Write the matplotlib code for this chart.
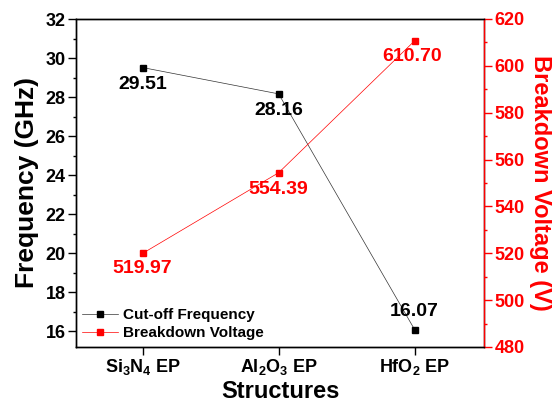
import matplotlib
matplotlib.use("Agg")
import matplotlib.pyplot as plt
from matplotlib.ticker import MultipleLocator

plt.rcParams['font.family'] = ['Liberation Sans', 'DejaVu Sans']
plt.rcParams['font.weight'] = 'bold'
plt.rcParams['mathtext.fontset'] = 'custom'
plt.rcParams['mathtext.rm'] = 'Liberation Sans:bold'
plt.rcParams['mathtext.bf'] = 'Liberation Sans:bold'
plt.rcParams['mathtext.it'] = 'Liberation Sans:bold'
plt.rcParams['mathtext.default'] = 'bf'

# data
structures = ['Si$_3$N$_4$ EP', 'Al$_2$O$_3$ EP', 'HfO$_2$ EP']
cutoff_freq = [29.51, 28.16, 16.07]          # GHz
breakdown_v = [519.97, 554.39, 610.70]       # V
freq_labels = ['29.51', '28.16', '16.07']
volt_labels = ['519.97', '554.39', '610.70']

red = '#ff0000'
x = list(range(len(structures)))

fig = plt.figure(figsize=(5.52, 4.08), dpi=100)
ax = fig.add_axes([76 / 552, 1 - 347 / 408, 408 / 552, 328 / 408])
ax2 = ax.twinx()

l1, = ax.plot(x, cutoff_freq, color='#333333', lw=0.5, marker='s', ms=5,
              mfc='black', mec='black', label='Cut-off Frequency')
l2, = ax2.plot(x, breakdown_v, color=red, lw=0.5, marker='s', ms=5,
               label='Breakdown Voltage')

ax.set_xlim(-0.49, 2.51)
ax.set_ylim(15.18, 32)
ax2.set_ylim(480, 620)

ax.set_xticks(x)
ax.set_xticklabels(structures, fontsize=13, fontweight='bold')
ax.yaxis.set_major_locator(MultipleLocator(2))
ax.yaxis.set_minor_locator(MultipleLocator(1))
ax2.yaxis.set_major_locator(MultipleLocator(20))
ax2.yaxis.set_minor_locator(MultipleLocator(10))

ax.tick_params(axis='both', which='major', direction='out', length=5.5, width=1,
               labelsize=13, pad=2)
ax.tick_params(axis='y', which='minor', direction='out', length=2.5, width=1)
ax.tick_params(axis='x', which='minor', bottom=False)
ax2.tick_params(axis='y', which='major', direction='out', length=5.5, width=1,
                labelsize=13, pad=2, colors=red)
ax2.tick_params(axis='y', which='minor', direction='out', length=2.5, width=1,
                colors=red)
for lab in ax.get_yticklabels() + ax2.get_yticklabels():
    lab.set_fontweight('bold')

for s in ax.spines.values():
    s.set_linewidth(1)
for s in ax2.spines.values():
    s.set_linewidth(1)
ax2.spines['right'].set_color(red)

ax.set_xlabel('Structures', fontsize=17, fontweight='bold', labelpad=2)
ax.set_ylabel('Frequency (GHz)', fontsize=19, fontweight='bold', labelpad=5)
ax2.set_ylabel('Breakdown Voltage (V)', fontsize=17, fontweight='bold',
               color=red, labelpad=3, rotation=270, va='bottom')

# value labels
f_offsets = [(0, -12), (0, -12), (0, 13)]
for xi, yi, t, off in zip(x, cutoff_freq, freq_labels, f_offsets):
    ax.annotate(t, (xi, yi), xytext=off, textcoords='offset points',
                ha='center', va='center', fontsize=14, fontweight='bold')
v_offsets = [(0, -11), (0, -12), (-2, -11)]
for xi, yi, t, off in zip(x, breakdown_v, volt_labels, v_offsets):
    ax2.annotate(t, (xi, yi), xytext=off, textcoords='offset points',
                 ha='center', va='center', fontsize=14, fontweight='bold',
                 color=red)

ax2.legend([l1, l2], [l1.get_label(), l2.get_label()], loc='lower left',
           bbox_to_anchor=(-0.012, -0.012), frameon=False, borderpad=0.2,
           handlelength=2.4, handletextpad=0.3, labelspacing=0.25,
           prop={'size': 11, 'weight': 'bold'})

fig.savefig('out.png', dpi=100)
